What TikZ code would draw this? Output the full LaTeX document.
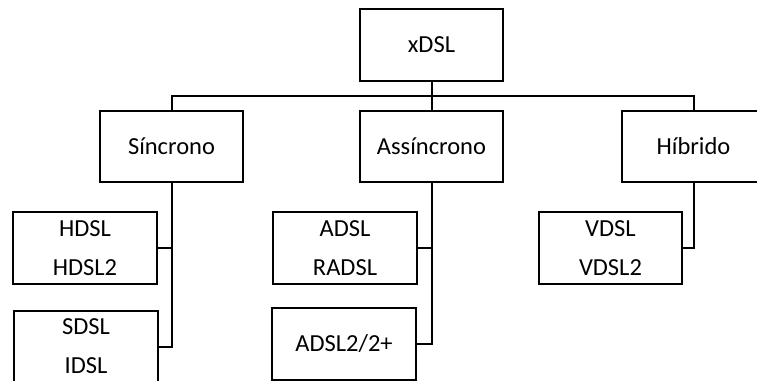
\documentclass[tikz,border=0pt]{standalone}
\usepackage{fontspec}
\setmainfont{Carlito}
\begin{document}
\begin{tikzpicture}[x=1pt,y=-1pt,
  box/.style={draw,line width=2pt,minimum width=143pt,minimum height=72pt,inner sep=0pt,align=center,font=\fontsize{24.5}{39}\selectfont},
  conn/.style={line width=2pt}]
\useasboundingbox (0,0) rectangle (757,380);
\begin{scope}
\clip (0,0) rectangle (757,380);
\node[box] (xdsl) at (431.5,45) {xDSL};
\node[box,minimum height=71pt] (sinc) at (171.5,146.5) {Síncrono};
\node[box,minimum height=71pt] (assi) at (431.5,146.5) {Assíncrono};
\node[box,minimum height=71pt] (hibr) at (693.5,146.5) {Híbrido};
\node[box,minimum width=144pt] (hdsl) at (85,248) {HDSL\\HDSL2};
\node[box,minimum width=144pt] (sdsl) at (86,346.5) {SDSL\\IDSL};
\node[box,minimum width=144pt] (adsl) at (345,248) {ADSL\\RADSL};
\node[box,minimum width=144pt] (adslb) at (344,344) {ADSL2/2+};
\node[box] (vdsl) at (610.5,248) {VDSL\\VDSL2};
\coordinate (bus) at (431.5,96);
\draw[conn] (xdsl.south) -- (assi.north);
\draw[conn] (sinc.north) |- (bus) -| (hibr.north);
\draw[conn] (sinc.south) |- (sdsl.east);
\draw[conn] (hdsl.east) -- (hdsl.east -| sinc.south);
\draw[conn] (assi.south) |- (adslb.east);
\draw[conn] (adsl.east) -- (adsl.east -| assi.south);
\draw[conn] (hibr.south) |- (vdsl.east);
\end{scope}
\end{tikzpicture}
\end{document}
